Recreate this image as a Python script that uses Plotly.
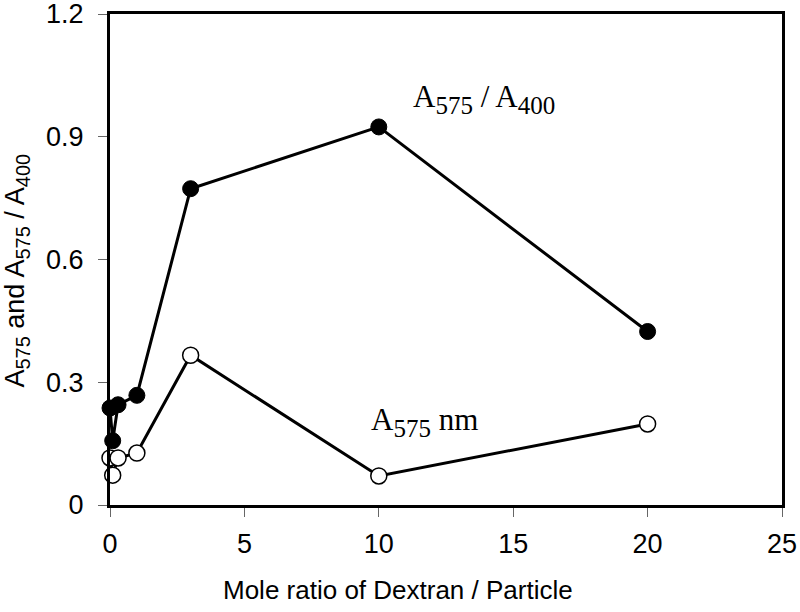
import plotly.graph_objects as go

ratio = [0, 0.1, 0.3, 1, 3, 10, 20]
a575_a400 = [0.237, 0.157, 0.245, 0.268, 0.773, 0.924, 0.424]
a575 = [0.115, 0.073, 0.115, 0.127, 0.366, 0.071, 0.198]

x_ticks = [0, 5, 10, 15, 20, 25]
y_ticks = [0, 0.3, 0.6, 0.9, 1.2]
y_tick_text = ['0', '0.3', '0.6', '0.9', '1.2']


def sub(s, px):
    return '<sub><span style="font-size:%dpx">%s</span></sub>' % (px, s)


fig = go.Figure()
fig.add_trace(go.Scatter(
    x=ratio, y=a575, mode='lines+markers',
    line=dict(color='black', width=3),
    marker=dict(size=16, color='white', line=dict(color='black', width=1.5)),
    cliponaxis=False
))
fig.add_trace(go.Scatter(
    x=ratio, y=a575_a400, mode='lines+markers',
    line=dict(color='black', width=3),
    marker=dict(size=16, color='black', line=dict(color='black', width=1)),
    cliponaxis=False
))

serif = dict(family='Liberation Serif', size=31, color='black')
fig.add_annotation(x=13.9, y=0.993, xref='x', yref='y', showarrow=False,
                   text='A' + sub('575', 25) + ' / A' + sub('400', 25), font=serif)
fig.add_annotation(x=11.7, y=0.203, xref='x', yref='y', showarrow=False,
                   text='A' + sub('575', 25) + ' nm', font=serif)

# axis titles as annotations (they sit off-centre in the original)
fig.add_annotation(x=-0.138, y=0.478, xref='paper', yref='paper', showarrow=False,
                   textangle=-90, xanchor='center', yanchor='middle',
                   text='A' + sub('575', 20) + ' and A' + sub('575', 20) + ' / A' + sub('400', 20),
                   font=dict(family='Liberation Sans', size=27, color='black'))
fig.add_annotation(x=0.4286, y=-0.173, xref='paper', yref='paper', showarrow=False,
                   xanchor='center', yanchor='middle',
                   text='Mole ratio of Dextran / Particle',
                   font=dict(family='Liberation Sans', size=26, color='black'))

tick_font = dict(family='Liberation Sans', size=27, color='black')
fig.update_layout(
    width=800, height=612,
    margin=dict(l=110, r=18, t=14, b=107),
    paper_bgcolor='white', plot_bgcolor='white',
    showlegend=False,
    xaxis=dict(
        range=[0, 25], tickvals=x_ticks, automargin=False, ticklabeloverflow='allow',
        showline=True, mirror=True, linecolor='black', linewidth=3,
        ticks='outside', ticklen=9, tickwidth=1, tickcolor='#666', ticklabelstandoff=4,
        showgrid=False, zeroline=False, tickfont=tick_font
    ),
    yaxis=dict(
        range=[0, 1.2], tickvals=y_ticks, ticktext=y_tick_text, automargin=False,
        ticklabeloverflow='allow',
        showline=True, mirror=True, linecolor='black', linewidth=3,
        ticks='outside', ticklen=9, tickwidth=1, tickcolor='#666', ticklabelstandoff=9,
        showgrid=False, zeroline=False, tickfont=tick_font
    ),
)

fig.write_html("out.html", config={'displayModeBar': False},
               post_script="document.body.style.margin='0';")
